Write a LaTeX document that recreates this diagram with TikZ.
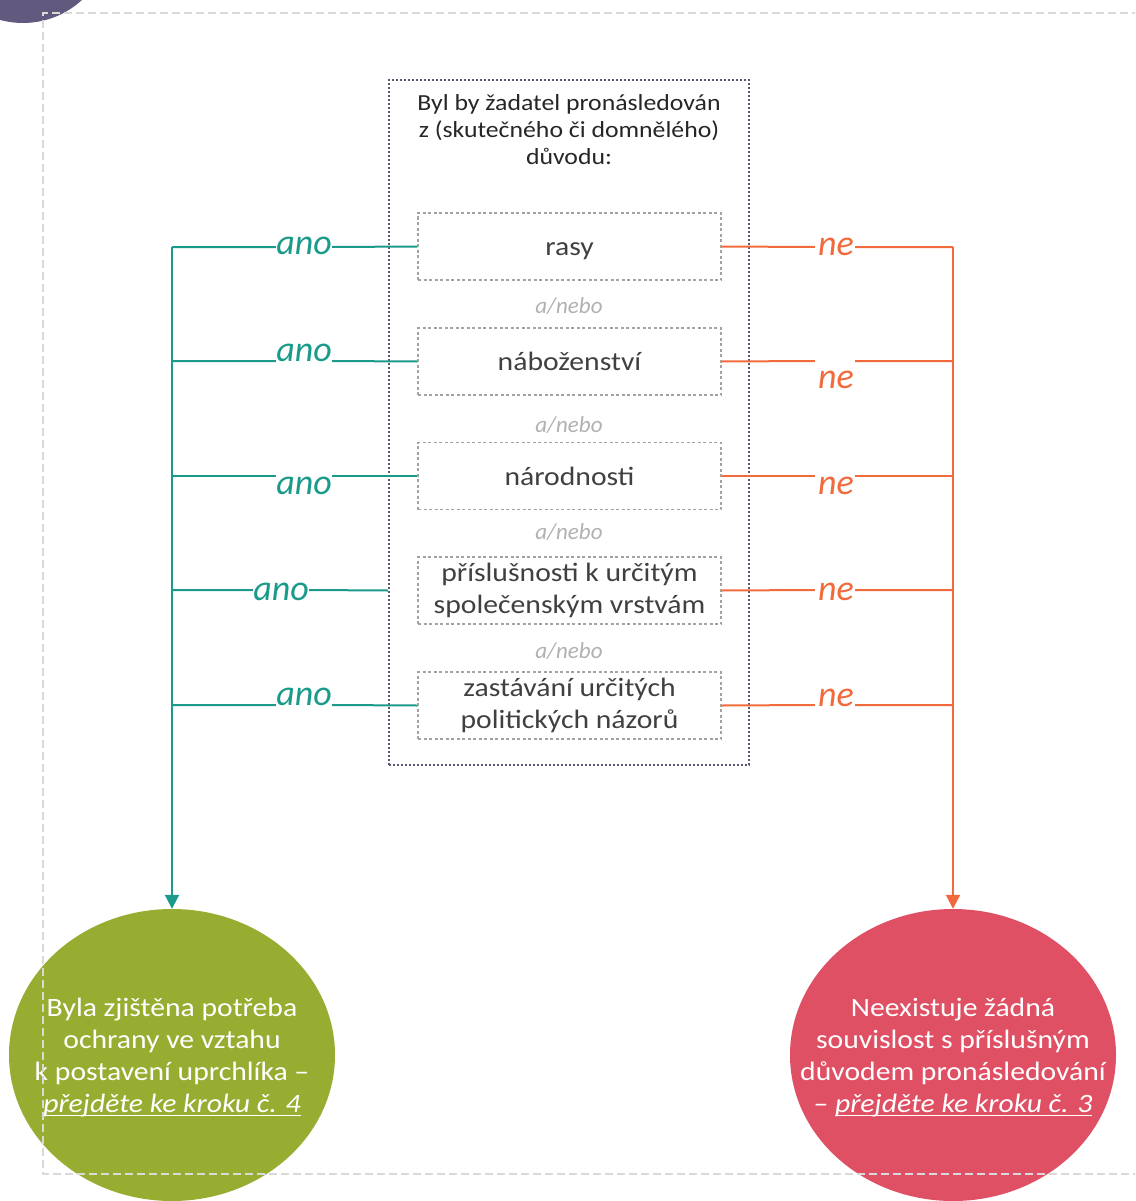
\documentclass[tikz,border=0pt]{standalone}
\usepackage{fontspec}
\setmainfont{Carlito}[FakeStretch=1.12]
\newfontfamily\handfont{Carlito}[ItalicFont={* Italic}]
\usetikzlibrary{arrows.meta,shapes.geometric}
\definecolor{yescol}{HTML}{1A9A8A}
\definecolor{nocol}{HTML}{F26A3C}
\definecolor{framecol}{HTML}{5C5674}
\definecolor{boxcol}{HTML}{A3A3A3}
\definecolor{txtcol}{HTML}{404040}
\definecolor{greencirc}{HTML}{97AD31}
\definecolor{redcirc}{HTML}{E05064}
\definecolor{purplecirc}{HTML}{625A7E}
\definecolor{bordercol}{HTML}{D9D9D9}
% underline drawn just below the baseline
\newcommand\linkul[1]{\setbox0\hbox{#1}\rlap{\rule[-3pt]{\wd0}{1.3pt}}\box0}
\begin{document}
\begin{tikzpicture}[x=1pt,y=-1pt,
  reason/.style={draw=boxcol, line width=1.4pt, dash pattern=on 3pt off 2.5pt,
    minimum width=303pt, minimum height=67pt, inner sep=0pt, align=center,
    text=txtcol, font=\fontsize{26.5}{32}\selectfont},
  outerbox/.style={draw=framecol, line width=1.8pt, dash pattern=on 2pt off 2pt,
    minimum width=360pt, minimum height=685pt, inner sep=0pt},
  andor/.style={text=boxcol!85, font=\handfont\fontsize{23}{24}\selectfont\itshape},
  gap/.style={minimum height=2pt, inner sep=0pt},
  yeslab/.style={text=yescol, font=\handfont\fontsize{36}{36}\selectfont\itshape, inner sep=0pt},
  nolab/.style={text=nocol, font=\handfont\fontsize{36}{36}\selectfont\itshape, inner sep=0pt},
  yesline/.style={draw=yescol, line width=2pt},
  noline/.style={draw=nocol, line width=2pt},
  outcome/.style={ellipse, minimum width=326pt, minimum height=292pt, inner sep=0pt},
  outtext/.style={text=white, align=center, font=\fontsize{26.5}{32}\selectfont},
  tip/.style={-{Triangle[width=14pt,length=14pt]}}
]
\useasboundingbox (0,0) rectangle (1135,1201);
\clip (0,0) rectangle (1135,1201);

% corner decoration
\fill[purplecirc] (23,-64) circle[radius=87];

% outcome ellipses
\node[outcome, fill=greencirc] (yes) at (172,1055) {};
\node[outcome, fill=redcirc] (no) at (953,1055) {};
\node[outtext] at (172,1058) {Byla zjištěna potřeba\\ochrany ve vztahu\\k postavení uprchlíka --\\\linkul{\itshape přejděte ke kroku č. 4}};
\node[outtext] at (953,1058) {Neexistuje žádná\\souvislost s příslušným\\důvodem pronásledování\\-- \linkul{\itshape přejděte ke kroku č. 3}};

% question frame
\node[outerbox] (q) at (569,422.5) {};
\node[align=center, font=\fontsize{23}{27}\selectfont, text=black!85] (title) at (569,130)
  {Byl by žadatel pronásledován\\z (skutečného či domnělého)\\důvodu:};

% grounds
\node[reason] (r1) at (569.5,246.5) {\vphantom{Ž}rasy};
\node[reason] (r2) at (569.5,361.5) {náboženství};
\node[reason] (r3) at (569.5,476) {národnosti};
\node[reason] (r4) at (569.5,590.5) {příslušnosti k určitým\\společenským vrstvám};
\node[reason] (r5) at (569.5,705.5) {zastávání určitých\\politických názorů};

\node[andor] (o1) at (569,306) {a/nebo};
\node[andor] (o2) at (569,425) {a/nebo};
\node[andor] (o3) at (569,532) {a/nebo};
\node[andor] (o4) at (569,651) {a/nebo};

% junctions on the collecting lines
\coordinate (jl1) at (172,247);
\coordinate (jl2) at (172,361);
\coordinate (jl3) at (172,476);
\coordinate (jl4) at (172,590);
\coordinate (jl5) at (172,705);
\coordinate (jr1) at (953,247);
\coordinate (jr2) at (953,361);
\coordinate (jr3) at (953,476);
\coordinate (jr4) at (953,590);
\coordinate (jr5) at (953,705);

% gaps left open for the labels
\node[gap, minimum width=56pt] (ga1) at (304,247) {};
\node[gap, minimum width=56pt] (ga2) at (304,361) {};
\node[gap, minimum width=56pt] (ga3) at (304,476) {};
\node[gap, minimum width=56pt] (ga4) at (281,590) {};
\node[gap, minimum width=56pt] (ga5) at (304,705) {};
\node[gap, minimum width=40pt] (gn1) at (835,247) {};
\node[gap, minimum width=40pt] (gn2) at (835,361) {};
\node[gap, minimum width=40pt] (gn3) at (835,476) {};
\node[gap, minimum width=40pt] (gn4) at (835,590) {};
\node[gap, minimum width=40pt] (gn5) at (835,705) {};

\node[yeslab] (ya1) at (304,246) {ano};
\node[yeslab] (ya2) at (304,353) {ano};
\node[yeslab] (ya3) at (304,486) {ano};
\node[yeslab] (ya4) at (281,592) {ano};
\node[yeslab] (ya5) at (304,697) {ano};
\node[nolab] (na1) at (836,247) {ne};
\node[nolab] (na2) at (836,380) {ne};
\node[nolab] (na3) at (836,486) {ne};
\node[nolab] (na4) at (836,592) {ne};
\node[nolab] (na5) at (836,698) {ne};

% "ano" branches
\draw[yesline] (r1.west) -- (ga1.east) (ga1.west) -- (jl1);
\draw[yesline] (r2.west) -- (ga2.east) (ga2.west) -- (jl2);
\draw[yesline] (r3.west) -- (ga3.east) (ga3.west) -- (jl3);
\draw[yesline] (q.west |- r4.west) -- (ga4.east) (ga4.west) -- (jl4);
\draw[yesline] (r5.west) -- (ga5.east) (ga5.west) -- (jl5);
\draw[yesline, tip] (jl1) -- (yes.north);

% "ne" branches
\draw[noline] (r1.east) -- (gn1.west) (gn1.east) -- (jr1);
\draw[noline] (r2.east) -- (gn2.west) (gn2.east) -- (jr2);
\draw[noline] (r3.east) -- (gn3.west) (gn3.east) -- (jr3);
\draw[noline] (r4.east) -- (gn4.west) (gn4.east) -- (jr4);
\draw[noline] (r5.east) -- (gn5.west) (gn5.east) -- (jr5);
\draw[noline, tip] (jr1) -- (no.north);

% page frame
\draw[bordercol, line width=2pt, dash pattern=on 8pt off 4pt]
  (1140,13) -- (43,13) -- (43,1174) -- (1140,1174);
\end{tikzpicture}
\end{document}
